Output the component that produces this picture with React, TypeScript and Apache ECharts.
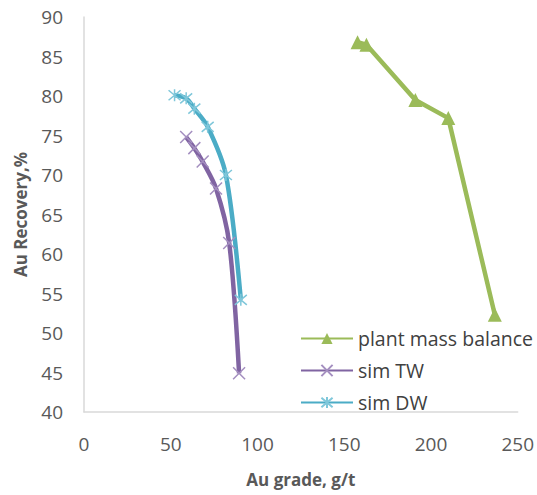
import React, { useEffect, useRef } from "react";
import * as echarts from "echarts";

const plantX = [157.7, 162.8, 191.0, 210.0, 236.8];
const plantY = [86.8, 86.5, 79.5, 77.2, 52.3];
const twX = [58.9, 63.6, 68.4, 76.1, 83.7, 89.4];
const twY = [74.8, 73.4, 71.7, 68.3, 61.4, 44.9];
const dwX = [52.2, 58.9, 63.6, 71.3, 81.8, 90.4];
const dwY = [80.1, 79.7, 78.4, 76.1, 70.0, 54.2];
const seriesNames = ["plant mass balance", "sim TW", "sim DW"];

const pairs = (xs: number[], ys: number[]) => xs.map((x, i) => [x, ys[i]]);

const FONT = "Open Sans";

export default function App() {
  const ref = useRef<HTMLDivElement>(null);
  useEffect(() => {
    const chart = echarts.init(ref.current!, null, { renderer: "svg" });
    const cross = "path://M0,0L10,10M0,10L10,0";
    const star = "path://M0,0L10,10M0,10L10,0M5,-1L5,11";
    chart.setOption({
      animation: false,
      grid: { left: 84, right: 17, top: 17, bottom: 83 },
      legend: {
        orient: "vertical",
        left: 295,
        top: 323,
        itemWidth: 52,
        itemHeight: 14,
        itemGap: 11,
        data: seriesNames,
        textStyle: { fontFamily: FONT, fontSize: 19.5, color: "#404040", lineHeight: 21 },
      },
      xAxis: {
        type: "value",
        min: 0,
        max: 250,
        interval: 50,
        name: "Au grade, g/t",
        nameLocation: "middle",
        nameGap: 59,
        nameTextStyle: { fontFamily: FONT, fontSize: 17, fontWeight: "bold", color: "#595959" },
        axisLine: { show: true, lineStyle: { color: "#D9D9D9", width: 1.5 } },
        axisTick: { show: false },
        splitLine: { show: false },
        axisLabel: { fontFamily: FONT, fontSize: 19, color: "#595959", margin: 22 },
      },
      yAxis: {
        type: "value",
        min: 40,
        max: 90,
        interval: 5,
        name: "Au Recovery,%",
        nameLocation: "middle",
        nameGap: 55,
        nameTextStyle: { fontFamily: FONT, fontSize: 17, fontWeight: "bold", color: "#595959" },
        axisLine: { show: true, lineStyle: { color: "#D9D9D9", width: 1.5 } },
        axisTick: { show: false },
        splitLine: { show: false },
        axisLabel: { fontFamily: FONT, fontSize: 19, color: "#595959", margin: 21 },
      },
      series: [
        {
          name: seriesNames[0],
          type: "line",
          data: pairs(plantX, plantY),
          symbol: "triangle",
          symbolSize: 14,
          lineStyle: { color: "#9BBB59", width: 4.5 },
          itemStyle: { color: "#9BBB59" },
        },
        {
          name: seriesNames[1],
          type: "line",
          smooth: 0.3,
          data: pairs(twX, twY),
          symbol: cross,
          symbolSize: 12,
          lineStyle: { color: "#8064A2", width: 4.5 },
          itemStyle: { color: "none", borderColor: "#A48FC0", borderWidth: 1.5 },
        },
        {
          name: seriesNames[2],
          type: "line",
          smooth: 0.3,
          data: pairs(dwX, dwY),
          symbol: star,
          symbolSize: 12,
          lineStyle: { color: "#4BACC6", width: 4.5 },
          itemStyle: { color: "none", borderColor: "#7FC7DA", borderWidth: 1.5 },
        },
      ],
    });
    return () => chart.dispose();
  }, []);
  return (
    <div
      ref={ref}
      style={{ position: "absolute", left: 0, top: 0, width: 537, height: 495 }}
    />
  );
}
